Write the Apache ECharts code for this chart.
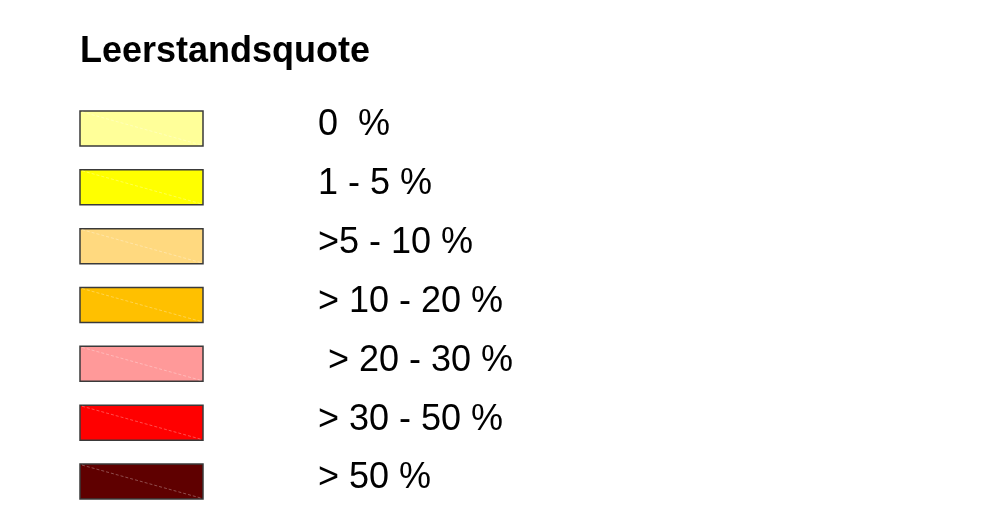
<!DOCTYPE html>
<html>
<head>
<meta charset="utf-8">
<title>Leerstandsquote</title>
<script src="https://cdn.jsdelivr.net/npm/echarts@6/dist/echarts.min.js"></script>
<style>
  html, body { margin: 0; padding: 0; background: #ffffff; }
  #main { width: 991px; height: 528px; }
</style>
</head>
<body>
<div id="main"></div>
<script>
// Legendenklassen (Leerstandsquote)
var classLabels = ['0  %', '1 - 5 %', '>5 - 10 %', '> 10 - 20 %', ' > 20 - 30 %', '> 30 - 50 %', '> 50 %'];
var classColors = ['#ffff99', '#ffff00', '#ffd97f', '#ffc000', '#ff9999', '#ff0000', '#5f0000'];
var classValues = [1, 1, 1, 1, 1, 1, 1];

var myChart = echarts.init(document.getElementById('main'));

var fontFamily = '"Liberation Sans", Arial, sans-serif';

var option = {
    backgroundColor: '#ffffff',
    animation: false,
    title: {
        text: 'Leerstandsquote',
        left: 80,
        top: 34,
        padding: 0,
        textStyle: {
            color: '#000000',
            fontSize: 36,
            fontWeight: 'bold',
            fontFamily: fontFamily
        }
    },
    grid: {
        left: 80,
        width: 123,
        top: 99,
        height: 412
    },
    xAxis: {
        type: 'value',
        min: 0,
        max: 1,
        show: false
    },
    yAxis: {
        type: 'category',
        data: classLabels,
        inverse: true,
        show: false
    },
    series: [
        {
            type: 'custom',
            data: classValues.map(function (v, i) { return [v, i]; }),
            renderItem: function (params, api) {
                var i = api.value(1);
                var p0 = api.coord([0, i]);
                var p1 = api.coord([api.value(0), i]);
                var h = 35;
                var x0 = p0[0], x1 = p1[0], yc = p0[1];
                return {
                    type: 'group',
                    children: [
                        {
                            type: 'rect',
                            shape: { x: x0, y: yc - h / 2, width: x1 - x0, height: h },
                            style: { fill: classColors[i], stroke: '#3a3a3a', lineWidth: 1.5 }
                        },
                        {
                            type: 'line',
                            shape: { x1: x0 + 2, y1: yc - h / 2 + 1, x2: x1 - 2, y2: yc + h / 2 - 1 },
                            style: { stroke: 'rgba(255,255,255,0.3)', lineWidth: 1, lineDash: [3, 2] }
                        },
                        {
                            type: 'text',
                            style: {
                                text: classLabels[i],
                                x: x1 + 115,
                                y: yc - 3,
                                align: 'left',
                                verticalAlign: 'middle',
                                fill: '#000000',
                                font: '36px ' + fontFamily
                            }
                        }
                    ]
                };
            }
        }
    ]
};

myChart.setOption(option);
</script>
</body>
</html>
